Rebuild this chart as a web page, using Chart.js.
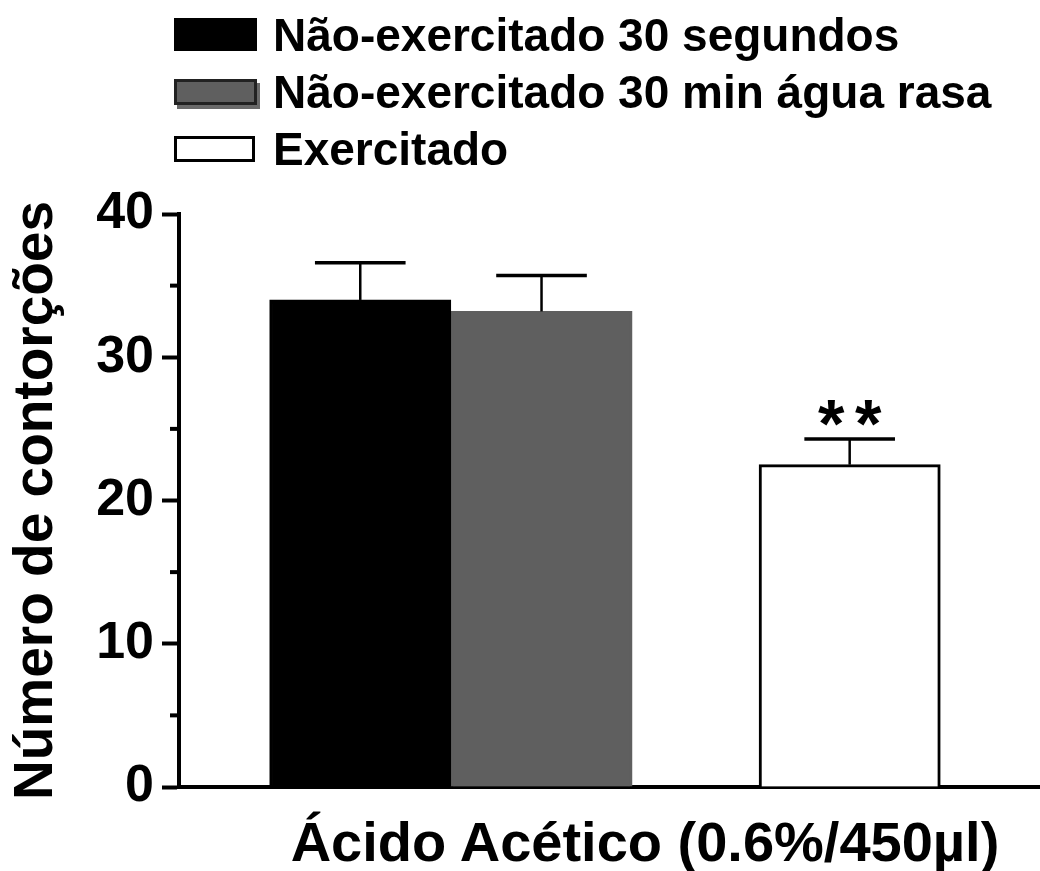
<!DOCTYPE html>
<html>
<head>
<meta charset="utf-8">
<script src="https://cdn.jsdelivr.net/npm/chart.js@4.4.1/dist/chart.umd.min.js"></script>
<style>
  html, body { margin: 0; padding: 0; background: #fff; overflow: hidden; }
  #wrap { position: relative; width: 1040px; height: 871px; }
  #legend { position: absolute; left: 174px; top: 6px; font: bold 46px "Liberation Sans", Arial, sans-serif; color: #000; }
  .row { display: flex; align-items: center; height: 57px; white-space: nowrap; }
  .box { width: 83px; box-sizing: border-box; margin-right: 16px; }
  #xtitle { position: absolute; left: 645px; top: 814px; transform: translateX(-50%);
            font: bold 56px/56px "Liberation Sans", Arial, sans-serif; white-space: nowrap; color: #000; }
</style>
</head>
<body>
<div id="wrap">
  <canvas id="chart" width="1040" height="871"></canvas>
  <div id="legend"></div>
  <div id="xtitle">Ácido Acético (0.6%/450µl)</div>
</div>
<script>
// data
const groups = ['Não-exercitado 30 segundos', 'Não-exercitado 30 min água rasa', 'Exercitado'];
const means = [34.0, 33.2, 22.5];
const sems = [2.6, 2.5, 1.8];
const marks = ['', '', '**'];
const yTicks = [0, 10, 20, 30, 40];
const yMinorTicks = [5, 15, 25, 35];

const FONT = '"Liberation Sans", Arial, sans-serif';
const fills = ['#000000', '#5f5f5f', '#ffffff'];
const borders = ['#000000', '#5f5f5f', '#000000'];
// where each bar sits along the (linear) x axis
const slots = [1, 2, 3.7];

// legend built as html, one row per group
const legend = document.getElementById('legend');
groups.forEach((g, i) => {
  const row = document.createElement('div');
  row.className = 'row';
  const box = document.createElement('span');
  box.className = 'box';
  box.style.background = fills[i];
  if (i === 0) { box.style.height = '33px'; }
  if (i === 1) { box.style.height = '26px'; box.style.border = '3px solid #222'; box.style.boxShadow = '3px 4px 0 #6a6a6a'; }
  if (i === 2) { box.style.height = '26px'; box.style.border = '3px solid #000'; box.style.width = '81px'; box.style.marginRight = '18px'; }
  const txt = document.createElement('span');
  txt.textContent = g;
  row.appendChild(box);
  row.appendChild(txt);
  legend.appendChild(row);
});

// error bars + significance stars
const errorBars = {
  id: 'errorBars',
  afterDatasetsDraw(chart) {
    const ctx = chart.ctx;
    const y = chart.scales.y;
    chart.data.datasets.forEach((ds, i) => {
      const bar = chart.getDatasetMeta(i).data[0];
      const top = y.getPixelForValue(means[i] + sems[i]);
      const half = bar.width / 4;
      ctx.save();
      ctx.strokeStyle = '#000';
      ctx.lineWidth = 2.5;
      ctx.beginPath();
      ctx.moveTo(bar.x, bar.y);
      ctx.lineTo(bar.x, top);
      ctx.stroke();
      ctx.lineWidth = 3.5;
      ctx.beginPath();
      ctx.moveTo(bar.x - half, top);
      ctx.lineTo(bar.x + half, top);
      ctx.stroke();
      if (marks[i]) {
        ctx.fillStyle = '#000';
        ctx.font = 'bold 68px ' + FONT;
        ctx.textAlign = 'center';
        ctx.textBaseline = 'alphabetic';
        const n = marks[i].length;
        for (let k = 0; k < n; k++) {
          ctx.fillText('*', bar.x + (k - (n - 1) / 2) * 37, top + 8);
        }
      }
      ctx.restore();
    });
  },
  afterDraw(chart) {
    // minor ticks on the y axis
    const ctx = chart.ctx;
    const y = chart.scales.y;
    const left = chart.chartArea.left;
    ctx.save();
    ctx.strokeStyle = '#000';
    ctx.lineWidth = 4;
    yMinorTicks.forEach(v => {
      const py = y.getPixelForValue(v);
      ctx.beginPath();
      ctx.moveTo(left - 9, py);
      ctx.lineTo(left, py);
      ctx.stroke();
    });
    ctx.restore();
  }
};

const datasets = groups.map((g, i) => ({
  label: g,
  data: [{ x: slots[i], y: means[i] }],
  backgroundColor: fills[i],
  borderColor: borders[i],
  borderWidth: 3,
  borderSkipped: 'bottom',
  grouped: false,
  barPercentage: 1,
  categoryPercentage: 1
}));

const config = {
  type: 'bar',
  data: { datasets: datasets },
  options: {
    responsive: false,
    animation: false,
    layout: { padding: { top: 214, bottom: 84, left: 0, right: 0 } },
    plugins: { legend: { display: false }, tooltip: { enabled: false } },
    scales: {
      x: {
        type: 'linear',
        min: 0,
        max: 4.75,
        offset: false,
        afterBuildTicks(s) { s.ticks = []; },
        ticks: { display: false },
        grid: { display: false },
        border: { display: true, width: 4, color: '#000' },
        afterFit(s) { s.height = 0; }
      },
      y: {
        min: 0,
        max: 40,
        afterBuildTicks(s) { s.ticks = yTicks.map(v => ({ value: v })); },
        afterFit(s) { s.width = 179; },
        ticks: { color: '#000', padding: 8, font: { family: FONT, size: 52, weight: 'bold' } },
        grid: { drawOnChartArea: false, drawTicks: true, tickLength: 17, tickWidth: 4, tickColor: '#000' },
        border: { display: true, width: 4, color: '#000' },
        title: {
          display: true,
          text: 'Número de contorções',
          color: '#000',
          font: { family: FONT, size: 55, weight: 'bold' },
          padding: { top: 4, bottom: 0 }
        }
      }
    }
  },
  plugins: [errorBars]
};

const myChart = new Chart(document.getElementById('chart'), config);
</script>
</body>
</html>
